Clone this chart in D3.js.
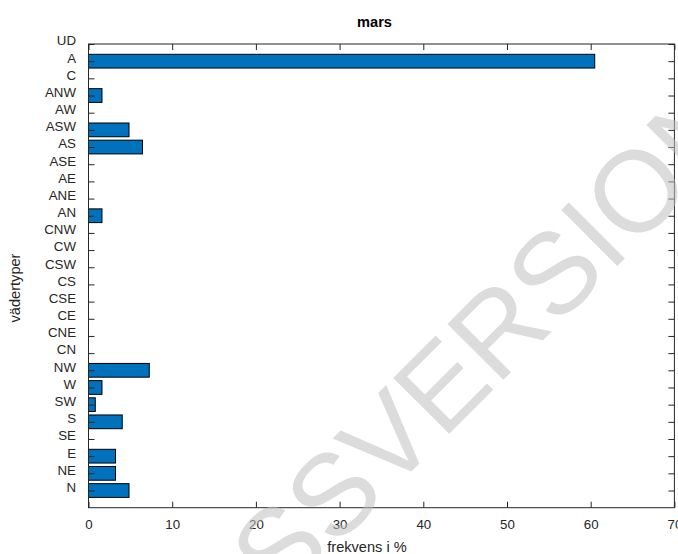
<!DOCTYPE html>
<html>
<head>
<meta charset="utf-8">
<script src="https://cdn.jsdelivr.net/npm/d3@7"></script>
<style>
  html, body { margin: 0; padding: 0; background: #fff; }
  svg { display: block; }
  text { font-family: "Liberation Sans", Arial, Helvetica, sans-serif; }
</style>
</head>
<body>
<svg id="chart" width="678" height="554"></svg>
<script>
// Categories listed bottom (N) to top (UD)
const categories = ["N","NE","E","SE","S","SW","W","NW","CN","CNE","CE","CSE","CS","CSW","CW","CNW","AN","ANE","AE","ASE","AS","ASW","AW","ANW","C","A","UD"];
const values = [4.84,3.23,3.23,0,4.03,0.81,1.61,7.26,0,0,0,0,0,0,0,0,1.61,0,0,0,6.45,4.84,0,1.61,0,60.48,0];
const xTicks = [0,10,20,30,40,50,60,70];
const titleText = "mars";
const xLabelText = "frekvens i %";
const yLabelText = "vädertyper";
const watermarkText = "CSSVERSION";

const W = 678, H = 554;
const L = 88.5, R = 674.4, T = 44, B = 507.7;
const axisColor = "#262626";
const barColor = "#0072BD";

const svg = d3.select("#chart");

const x = d3.scaleLinear().domain([0, 70]).range([L, R]);
const y = d3.scaleLinear().domain([0, categories.length]).range([B, T]);
const pos = categories.map((c, i) => i + 1);
const barH = 0.8;

// bars
const data = categories.map((c, i) => ({ c, v: values[i], p: i + 1 })).filter(d => d.v > 0);
svg.append("g").selectAll("rect").data(data).join("rect")
  .attr("x", x(0))
  .attr("y", d => y(d.p + barH / 2))
  .attr("width", d => x(d.v) - x(0))
  .attr("height", d => y(d.p - barH / 2) - y(d.p + barH / 2))
  .attr("fill", barColor)
  .attr("stroke", "#000")
  .attr("stroke-width", 1);

function styleAxis(g) {
  g.select(".domain").remove();
  g.selectAll(".tick line").attr("stroke", axisColor).attr("stroke-width", 1);
  g.selectAll(".tick text").attr("fill", axisColor).style("font-size", "13.3px")
    .style("font-family", '"Liberation Sans", Arial, sans-serif');
}

// bottom axis
const gB = svg.append("g").attr("transform", `translate(0,${B})`)
  .call(d3.axisBottom(x).tickValues(xTicks).tickFormat(d3.format("d")).tickSizeInner(-6).tickSizeOuter(0).tickPadding(11));
styleAxis(gB);
gB.selectAll(".tick text").attr("dy", "0.71em").attr("y", 11.5);

// top axis (ticks only)
const gT = svg.append("g").attr("transform", `translate(0,${T})`)
  .call(d3.axisTop(x).tickValues(xTicks).tickFormat("").tickSizeInner(-6).tickSizeOuter(0));
styleAxis(gT);

// left axis
const gL = svg.append("g").attr("transform", `translate(${L},0)`)
  .call(d3.axisLeft(y).tickValues(pos).tickFormat(p => categories[p - 1]).tickSizeInner(-6).tickSizeOuter(0).tickPadding(12.5));
styleAxis(gL);
gL.selectAll(".tick text").attr("y", -3.4);

// right axis (ticks only)
const gR = svg.append("g").attr("transform", `translate(${R},0)`)
  .call(d3.axisRight(y).tickValues(pos).tickFormat("").tickSizeInner(-6).tickSizeOuter(0));
styleAxis(gR);

// box
svg.append("rect")
  .attr("x", L).attr("y", T).attr("width", R - L).attr("height", B - T)
  .attr("fill", "none").attr("stroke", axisColor).attr("stroke-width", 1);

// title
svg.append("text").attr("x", 374.5).attr("y", 26.7)
  .attr("text-anchor", "middle").attr("fill", "#000")
  .style("font-size", "14.6px").style("font-weight", "bold").text(titleText);

// x label
svg.append("text").attr("x", 367).attr("y", 552)
  .attr("text-anchor", "middle").attr("fill", axisColor)
  .style("font-size", "14.6px").text(xLabelText);

// y label
svg.append("text").attr("transform", "translate(19.5,288) rotate(-90)")
  .attr("text-anchor", "middle").attr("fill", axisColor)
  .style("font-size", "14.6px").text(yLabelText);

// watermark
const F = 115;
const wmG = svg.append("g");
const wm = wmG.append("text").attr("x", 0).attr("y", 0)
  .style("font-size", F + "px").attr("fill", "#c0c0c0").attr("fill-opacity", 0.55)
  .text(watermarkText);
let w0 = 0, wI = 0.278 * F;
try {
  w0 = wm.node().getSubStringLength(0, 7);
  wI = wm.node().getSubStringLength(7, 1);
} catch (e) { w0 = 4.6 * F; }
const lx = w0 + wI / 2, ly = -0.358 * F;
const c = Math.SQRT1_2;
const rx = c * lx + c * ly, ry = -c * lx + c * ly;
wmG.attr("transform", `translate(${592 - rx},${233 - ry}) rotate(-45)`);
</script>
</body>
</html>
